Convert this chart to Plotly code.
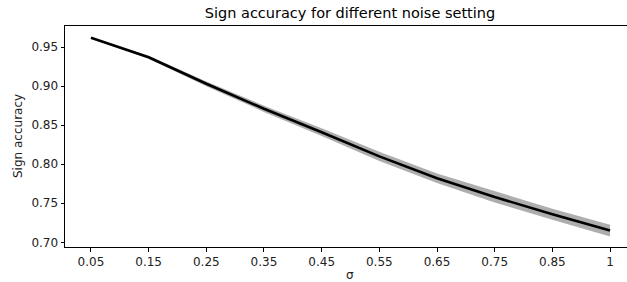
import plotly.graph_objects as go

sigma_labels = ["0.05", "0.15", "0.25", "0.35", "0.45", "0.55", "0.65", "0.75", "0.85", "1"]
acc_mean = [0.962, 0.937, 0.903, 0.871, 0.841, 0.810, 0.782, 0.758, 0.736, 0.715]
acc_std = [0.001, 0.002, 0.003, 0.004, 0.005, 0.006, 0.006, 0.007, 0.007, 0.0075]

upper = [m + s for m, s in zip(acc_mean, acc_std)]
lower = [m - s for m, s in zip(acc_mean, acc_std)]

fig = go.Figure()
fig.add_trace(go.Scatter(x=sigma_labels, y=lower, mode="lines",
                         line=dict(width=0, color="rgba(0,0,0,0)"),
                         showlegend=False, hoverinfo="skip"))
fig.add_trace(go.Scatter(x=sigma_labels, y=upper, mode="lines", fill="tonexty",
                         fillcolor="rgba(140,140,140,0.7)",
                         line=dict(width=0, color="rgba(0,0,0,0)"),
                         showlegend=False, hoverinfo="skip"))
fig.add_trace(go.Scatter(x=sigma_labels, y=acc_mean, mode="lines",
                         line=dict(color="black", width=2.6),
                         showlegend=False))

font = "DejaVu Sans"
pl, pr, pt, pb = 65, 627, 26, 247
W, H = 627, 282


def px(x):
    return (x - pl) / (pr - pl)


def py(y):
    return (pb - y) / (pb - pt)


fig.update_layout(
    width=W, height=H,
    margin=dict(l=pl, r=W - pr, t=pt, b=H - pb, autoexpand=False),
    plot_bgcolor="white", paper_bgcolor="white",
    font=dict(family=font, size=11, color="black"),
    title=dict(text="Sign accuracy for different noise setting",
               x=350 / W, xanchor="center", xref="container",
               y=1 - 13 / H, yanchor="middle", yref="container",
               font=dict(family=font, size=14.5, color="black")),
    xaxis=dict(type="category", range=[-0.45, 9.294], automargin=False,
               showline=True, linecolor="black", linewidth=1, mirror=True,
               ticks="outside", ticklen=3.5, tickcolor="black", tickwidth=1,
               showgrid=False, zeroline=False,
               tickfont=dict(family=font, size=12, color="#222")),
    yaxis=dict(range=[0.694, 0.977], automargin=False,
               tickvals=[0.70, 0.75, 0.80, 0.85, 0.90, 0.95],
               ticktext=["0.70", "0.75", "0.80", "0.85", "0.90", "0.95"],
               showline=True, linecolor="black", linewidth=1, mirror=False,
               ticks="outside", ticklen=3.5, tickcolor="black", tickwidth=1,
               showgrid=False, zeroline=False,
               tickfont=dict(family=font, size=12, color="#222")),
    annotations=[
        dict(text="Sign accuracy", x=px(18), y=py(136), xref="paper", yref="paper",
             xanchor="center", yanchor="middle",
             showarrow=False, textangle=-90,
             font=dict(family=font, size=12, color="#222")),
        dict(text="σ", x=px(350), y=py(275), xref="paper", yref="paper",
             xanchor="center", yanchor="middle",
             showarrow=False, font=dict(family=font, size=12, color="#222")),
    ],
)

fig.write_html("out.html",
               config={"displayModeBar": False},
               post_script="document.body.style.margin='0';document.body.style.overflow='hidden';")
